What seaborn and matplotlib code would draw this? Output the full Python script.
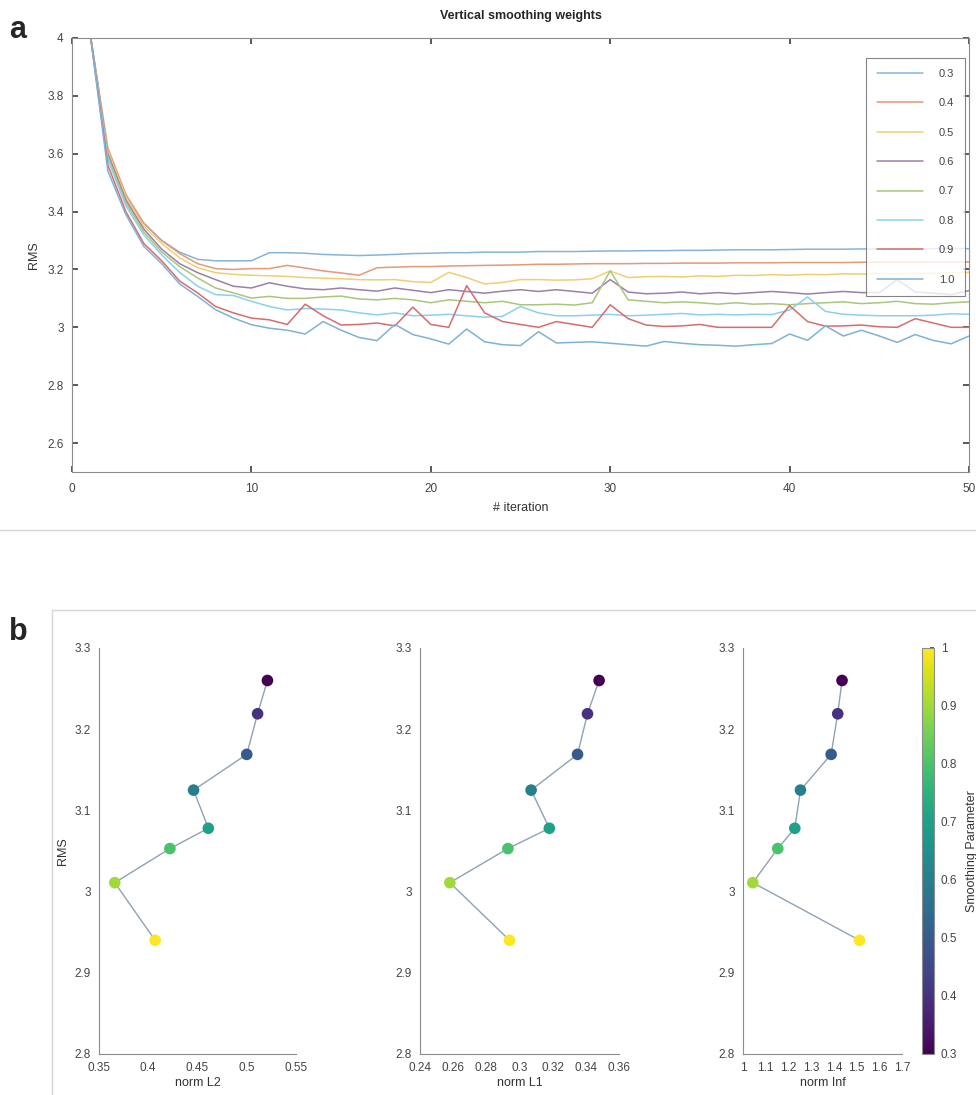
import numpy as np
import pandas as pd
import matplotlib.pyplot as plt
from matplotlib.ticker import FuncFormatter
from matplotlib.lines import Line2D
from matplotlib.patches import Rectangle
import seaborn as sns

sns.set_theme(style='white')
plt.rcParams['font.family'] = ['Liberation Sans', 'DejaVu Sans']

# ---- data, panel a: RMS per iteration for each vertical smoothing weight
iterations = list(range(1, 51))
weight_labels = ['0.3', '0.4', '0.5', '0.6', '0.7', '0.8', '0.9', '1.0']

rms_03 = [4.02, 3.60, 3.45, 3.36, 3.30, 3.26, 3.235, 3.23, 3.23, 3.23,
          3.258, 3.258, 3.256, 3.252, 3.25, 3.248, 3.25, 3.252, 3.255, 3.256,
          3.258, 3.258, 3.26, 3.26, 3.26, 3.262, 3.262, 3.262, 3.263, 3.264,
          3.264, 3.265, 3.265, 3.266, 3.266, 3.267, 3.268, 3.268, 3.268, 3.269,
          3.27, 3.27, 3.27, 3.271, 3.271, 3.272, 3.272, 3.272, 3.272, 3.272]
rms_04 = [4.02, 3.62, 3.46, 3.36, 3.30, 3.255, 3.22, 3.203, 3.20, 3.203,
          3.203, 3.214, 3.205, 3.195, 3.188, 3.18, 3.206, 3.208, 3.21, 3.21,
          3.212, 3.213, 3.214, 3.215, 3.216, 3.218, 3.218, 3.219, 3.22, 3.22,
          3.22, 3.221, 3.221, 3.222, 3.222, 3.222, 3.223, 3.223, 3.223, 3.224,
          3.224, 3.224, 3.224, 3.225, 3.225, 3.225, 3.225, 3.226, 3.226, 3.226]
rms_05 = [4.02, 3.61, 3.45, 3.35, 3.29, 3.24, 3.206, 3.189, 3.183, 3.18,
          3.178, 3.176, 3.172, 3.17, 3.168, 3.165, 3.164, 3.165, 3.158, 3.155,
          3.19, 3.172, 3.15, 3.155, 3.165, 3.165, 3.163, 3.164, 3.168, 3.195,
          3.172, 3.175, 3.176, 3.174, 3.178, 3.176, 3.18, 3.179, 3.182, 3.18,
          3.183, 3.182, 3.185, 3.184, 3.186, 3.185, 3.187, 3.186, 3.188, 3.19]
rms_06 = [4.02, 3.60, 3.44, 3.34, 3.27, 3.22, 3.189, 3.165, 3.142, 3.136,
          3.154, 3.142, 3.133, 3.13, 3.136, 3.13, 3.125, 3.136, 3.128, 3.12,
          3.13, 3.124, 3.118, 3.125, 3.13, 3.124, 3.13, 3.124, 3.118, 3.165,
          3.122, 3.116, 3.118, 3.122, 3.116, 3.12, 3.116, 3.12, 3.124, 3.12,
          3.115, 3.12, 3.124, 3.12, 3.12, 3.165, 3.122, 3.118, 3.113, 3.127]
rms_07 = [4.02, 3.59, 3.43, 3.33, 3.26, 3.21, 3.171, 3.136, 3.119, 3.101,
          3.107, 3.10, 3.10, 3.105, 3.108, 3.098, 3.095, 3.10, 3.095, 3.085,
          3.095, 3.09, 3.085, 3.09, 3.078, 3.078, 3.08, 3.077, 3.085, 3.195,
          3.095, 3.09, 3.085, 3.088, 3.085, 3.08, 3.085, 3.08, 3.082, 3.078,
          3.082, 3.085, 3.088, 3.082, 3.085, 3.09, 3.082, 3.08, 3.085, 3.088]
rms_08 = [4.02, 3.58, 3.42, 3.32, 3.25, 3.19, 3.142, 3.113, 3.11, 3.09,
          3.072, 3.06, 3.065, 3.063, 3.06, 3.05, 3.043, 3.05, 3.04, 3.042,
          3.045, 3.04, 3.035, 3.038, 3.072, 3.05, 3.04, 3.04, 3.042, 3.045,
          3.04, 3.042, 3.045, 3.048, 3.043, 3.045, 3.043, 3.045, 3.044, 3.06,
          3.105, 3.055, 3.045, 3.042, 3.04, 3.04, 3.04, 3.042, 3.047, 3.045]
rms_09 = [4.02, 3.56, 3.40, 3.29, 3.23, 3.16, 3.119, 3.072, 3.05, 3.032,
          3.026, 3.01, 3.08, 3.04, 3.008, 3.01, 3.015, 3.005, 3.07, 3.01,
          3.0, 3.144, 3.05, 3.02, 3.01, 3.0, 3.02, 3.01, 3.0, 3.078,
          3.03, 3.008, 3.003, 3.005, 3.01, 3.0, 3.0, 3.0, 3.0, 3.075,
          3.02, 3.004, 3.005, 3.008, 3.002, 3.0, 3.03, 3.015, 3.0, 3.0]
rms_10 = [4.02, 3.54, 3.39, 3.28, 3.22, 3.15, 3.107, 3.061, 3.032, 3.009,
          2.997, 2.99, 2.977, 3.02, 2.99, 2.965, 2.954, 3.01, 2.975, 2.96,
          2.942, 2.994, 2.95, 2.94, 2.937, 2.985, 2.946, 2.948, 2.95, 2.945,
          2.94, 2.935, 2.951, 2.945, 2.94, 2.938, 2.935, 2.94, 2.944, 2.977,
          2.955, 3.005, 2.97, 2.99, 2.97, 2.948, 2.975, 2.955, 2.943, 2.97]

line_colors = ['#86b4d8', '#e3997a', '#f0cf72', '#9b80a8',
               '#a9c67c', '#8ccfee', '#d66c6c', '#7db2d6']

# ---- data, panel b: final RMS against norms
smoothing = [0.3, 0.4, 0.5, 0.6, 0.7, 0.8, 0.9, 1.0]
final_rms = [3.26, 3.219, 3.169, 3.125, 3.078, 3.053, 3.011, 2.940]
norm_l2 = [0.521, 0.511, 0.500, 0.446, 0.461, 0.422, 0.366, 0.407]
norm_l1 = [0.348, 0.341, 0.335, 0.307, 0.318, 0.293, 0.258, 0.294]
norm_inf = [1.436, 1.417, 1.388, 1.253, 1.228, 1.153, 1.043, 1.513]

series = [rms_03, rms_04, rms_05, rms_06, rms_07, rms_08, rms_09, rms_10]
df_a = pd.concat([pd.DataFrame({'iteration': iterations, 'rms': s, 'weight': w})
                  for s, w in zip(series, weight_labels)])
df_b = pd.DataFrame({'smoothing': smoothing, 'rms': final_rms,
                     'l2': norm_l2, 'l1': norm_l1, 'inf': norm_inf})

fmt = FuncFormatter(lambda v, p: '{:g}'.format(round(v, 4)))
axis_grey = '#8c8c8c'
tick_col = '#444444'

fig = plt.figure(figsize=(9.76, 10.95), dpi=100)

# panel frames
fig.add_artist(Line2D([0, 1], [1 - 530 / 1095] * 2, color='#d6d6d6', lw=1, transform=fig.transFigure))
fig.add_artist(Rectangle((52 / 976, -0.01), 1.0, 1 - 610 / 1095 + 0.01, fill=False,
                         edgecolor='#d6d6d6', lw=1, transform=fig.transFigure))

########## panel a
ax = fig.add_axes([72 / 976, 1 - 472 / 1095, 897 / 976, 434 / 1095])
sns.lineplot(data=df_a, x='iteration', y='rms', hue='weight', palette=line_colors,
             linewidth=1.1, ax=ax, legend=False)
ax.set_xlim(0, 50)
ax.set_ylim(2.5, 4)
ax.set_xticks([0, 10, 20, 30, 40, 50])
ax.set_yticks(np.arange(2.6, 4.01, 0.2))
ax.xaxis.set_major_formatter(fmt)
ax.yaxis.set_major_formatter(fmt)
ax.set_xlabel('# iteration', fontsize=9, color='#333333', labelpad=5)
ax.set_ylabel('RMS', fontsize=9, color='#333333', labelpad=5)
ax.set_title('Vertical smoothing weights', fontsize=9, fontweight='bold', pad=14)
ax.tick_params(direction='in', length=4, labelsize=8.5, colors=tick_col, top=True, right=True,
               bottom=True, left=True)
ax.tick_params(axis='x', pad=8)
ax.tick_params(axis='y', pad=6)
for sp in ax.spines.values():
    sp.set_color(axis_grey)
    sp.set_linewidth(0.8)
handles = [Line2D([], [], color=c, lw=1.1) for c in line_colors]
leg = ax.legend(handles, weight_labels, loc='upper right', bbox_to_anchor=(0.996, 0.955),
                fontsize=8, labelspacing=1.75, handlelength=4.2, handletextpad=1.4,
                borderpad=1.0, frameon=True, fancybox=False, borderaxespad=0)
leg.get_frame().set_edgecolor('#666666')
leg.get_frame().set_linewidth(0.8)
for t in leg.get_texts():
    t.set_color('#444444')

########## panel b
panels = [('l2', 'norm L2', 99, 197, (0.35, 0.55), np.arange(0.35, 0.551, 0.05)),
          ('l1', 'norm L1', 420, 199, (0.24, 0.36), np.arange(0.24, 0.361, 0.02)),
          ('inf', 'norm Inf', 743, 159, (1.0, 1.7), np.arange(1.0, 1.701, 0.1))]
for i, (col, lab, x0, w, xl, xt) in enumerate(panels):
    axb = fig.add_axes([x0 / 976, 1 - 1054 / 1095, w / 976, 406 / 1095])
    sns.lineplot(data=df_b, x=col, y='rms', sort=False, color='#8ea2b4', linewidth=1.0, ax=axb)
    sns.scatterplot(data=df_b, x=col, y='rms', hue='smoothing', palette='viridis',
                    hue_norm=(0.3, 1.0), s=70, edgecolor='none', legend=False, ax=axb, zorder=3)
    axb.set_xlim(*xl)
    axb.set_ylim(2.8, 3.3)
    axb.set_xticks(xt)
    axb.set_yticks(np.arange(2.8, 3.31, 0.1))
    axb.xaxis.set_major_formatter(fmt)
    axb.yaxis.set_major_formatter(fmt)
    axb.set_xlabel(lab, fontsize=9, color='#333333', labelpad=2)
    axb.set_ylabel('RMS' if i == 0 else '', fontsize=9, color='#333333', labelpad=4)
    axb.tick_params(direction='in', length=4, labelsize=8.5, colors=tick_col)
    axb.tick_params(axis='x', pad=6)
    axb.tick_params(axis='y', pad=6)
    sns.despine(ax=axb)
    for sp in ('left', 'bottom'):
        axb.spines[sp].set_color(axis_grey)
        axb.spines[sp].set_linewidth(0.8)

cax = fig.add_axes([922 / 976, 1 - 1054 / 1095, 12 / 976, 406 / 1095])
sm = plt.cm.ScalarMappable(cmap='viridis', norm=plt.Normalize(0.3, 1.0))
cb = fig.colorbar(sm, cax=cax)
cb.set_ticks(np.arange(0.3, 1.01, 0.1))
cb.ax.yaxis.set_major_formatter(fmt)
cb.ax.tick_params(direction='in', length=3, labelsize=8.5, colors=tick_col, pad=5)
cb.outline.set_edgecolor(axis_grey)
cb.outline.set_linewidth(0.8)
cb.set_label('Smoothing Parameter', fontsize=9, color='#333333', labelpad=6)

fig.text(9 / 976, 1 - 30 / 1095, 'a', fontsize=22, fontweight='bold', va='center')
fig.text(9 / 976, 1 - 632 / 1095, 'b', fontsize=22, fontweight='bold', va='center')

fig.savefig('out.png', dpi=100)
